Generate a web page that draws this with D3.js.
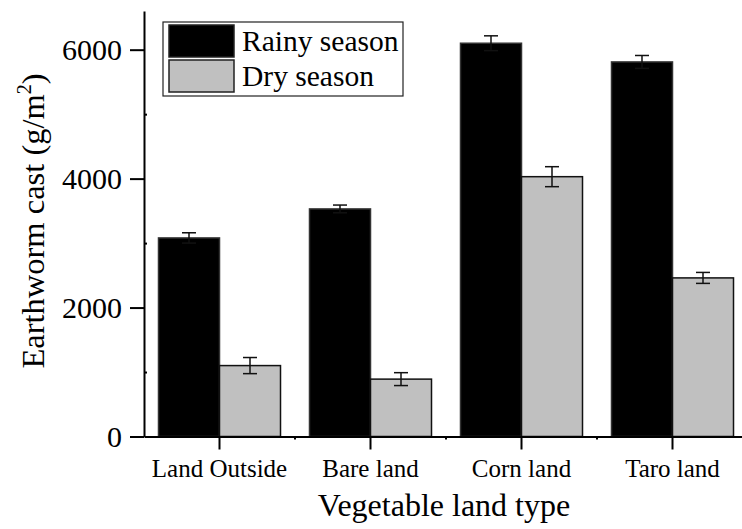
<!DOCTYPE html>
<html>
<head>
<meta charset="utf-8">
<script src="https://cdn.jsdelivr.net/npm/d3@7"></script>
<style>
  body { margin: 0; background: #fff; }
  svg { display: block; font-family: "Liberation Serif", "Times New Roman", serif; }
</style>
</head>
<body>
<div class="chart-container"></div>
<script>
// data
const landTypes = ["Land Outside", "Bare land", "Corn land", "Taro land"];
const seasons = ["Rainy season", "Dry season"];
const rainyValues = [3080, 3530, 6100, 5810];
const rainyErrors = [80, 60, 115, 100];
const dryValues = [1100, 890, 4030, 2460];
const dryErrors = [125, 100, 155, 85];
const yTicks = [0, 2000, 4000, 6000];
const yMinorTicks = [1000, 3000, 5000];
const seasonColors = ["#000000", "#c0c0c0"];

const width = 742;
const height = 529;

const svg = d3.select(".chart-container")
    .append("svg")
        .attr("width", width)
        .attr("height", height)

const chartLeftX = 144;
const chartRightX = 748;
const chartBaseY = 436.5;
const chartTopY = 11;

const rows = landTypes.map((t, i) => ({
    type: t,
    values: [
        {season: seasons[0], value: rainyValues[i], err: rainyErrors[i]},
        {season: seasons[1], value: dryValues[i], err: dryErrors[i]}
    ]
}));

const xScale = d3.scaleBand()
    .domain(landTypes)
    .range([chartLeftX, chartRightX])
    .paddingInner(0.192)
    .paddingOuter(0.096);

const xSub = d3.scaleBand()
    .domain(seasons)
    .range([0, xScale.bandwidth()]);

const yScale = d3.scaleLinear()
    .domain([0, 6600])
    .range([chartBaseY, chartTopY]);

const color = d3.scaleOrdinal().domain(seasons).range(seasonColors);

// bars
const groups = svg.selectAll(".group")
    .data(rows)
    .join("g")
        .attr("class", "group")
        .attr("transform", d => `translate(${xScale(d.type)},0)`);

groups.selectAll("rect")
    .data(d => d.values)
    .join("rect")
        .attr("x", d => xSub(d.season))
        .attr("y", d => yScale(d.value))
        .attr("width", xSub.bandwidth())
        .attr("height", d => chartBaseY - yScale(d.value))
        .attr("fill", d => color(d.season))
        .attr("stroke", d => d.season === seasons[0] ? "#333" : "#111")
        .attr("stroke-width", 1.5);

// error bars
const errG = groups.selectAll(".err")
    .data(d => d.values)
    .join("g")
        .attr("class", "err")
        .attr("stroke", "#111")
        .attr("stroke-width", 1.5);

const cx = d => xSub(d.season) + xSub.bandwidth() / 2;
errG.append("line")
    .attr("x1", cx).attr("x2", cx)
    .attr("y1", d => yScale(d.value - d.err))
    .attr("y2", d => yScale(d.value + d.err));
errG.append("line")
    .attr("x1", d => cx(d) - 7).attr("x2", d => cx(d) + 7)
    .attr("y1", d => yScale(d.value + d.err))
    .attr("y2", d => yScale(d.value + d.err));
errG.append("line")
    .attr("x1", d => cx(d) - 7).attr("x2", d => cx(d) + 7)
    .attr("y1", d => yScale(d.value - d.err))
    .attr("y2", d => yScale(d.value - d.err));

// y axis
const yAxis = svg.append("g")
    .attr("transform", `translate(${chartLeftX},0)`)
    .call(d3.axisLeft(yScale).tickValues(yTicks).tickFormat(d3.format("d"))
        .tickSize(14).tickPadding(8).tickSizeOuter(0));
yAxis.select(".domain").attr("stroke-width", 2);
yAxis.selectAll(".tick line").attr("stroke-width", 2);
yAxis.selectAll("text")
    .attr("font-size", 30)
    .attr("font-family", "Liberation Serif")
    .attr("fill", "#000")
    .attr("dy", "0.34em");

svg.append("g")
    .attr("transform", `translate(${chartLeftX},0)`)
    .call(d3.axisRight(yScale).tickValues(yMinorTicks).tickSize(3).tickFormat(""))
    .call(g => g.select(".domain").remove())
    .selectAll("line").attr("stroke-width", 2);

// x axis
const xAxis = svg.append("g")
    .attr("transform", `translate(0,${chartBaseY})`)
    .call(d3.axisBottom(xScale).tickSize(13).tickPadding(10).tickSizeOuter(0));
xAxis.select(".domain").attr("stroke-width", 2);
xAxis.selectAll(".tick line").attr("stroke-width", 2);
xAxis.selectAll("text")
    .attr("font-size", 25)
    .attr("font-family", "Liberation Serif")
    .attr("fill", "#000")
    .attr("dy", "0.71em");

// minor x ticks between groups
const step = xScale.step();
const minorX = landTypes.slice(1).map(t => xScale(t) - (step - xScale.bandwidth()) / 2);
svg.append("g")
    .selectAll("line")
    .data(minorX)
    .join("line")
        .attr("x1", d => d).attr("x2", d => d)
        .attr("y1", chartBaseY).attr("y2", chartBaseY + 3)
        .attr("stroke", "#000")
        .attr("stroke-width", 2);

// axis titles
svg.append("text")
    .attr("x", (chartLeftX + chartRightX) / 2 - 2)
    .attr("y", 516)
    .attr("text-anchor", "middle")
    .attr("font-size", 32)
    .text("Vegetable land type");

const yTitle = svg.append("text")
    .attr("transform", `translate(44,${221}) rotate(-90)`)
    .attr("text-anchor", "middle")
    .attr("font-size", 32.5);
yTitle.append("tspan").text("Earthworm cast (g/m");
yTitle.append("tspan").attr("dy", -13).attr("font-size", 20).text("2");
yTitle.append("tspan").attr("dy", 13).text(")");

// legend
const legend = svg.append("g").attr("transform", "translate(163,22)");
legend.append("rect")
    .attr("width", 240).attr("height", 74)
    .attr("fill", "#fff").attr("stroke", "#222").attr("stroke-width", 1.2);
const items = legend.selectAll(".item")
    .data(seasons)
    .join("g")
        .attr("class", "item")
        .attr("transform", (d, i) => `translate(6,${3 + i * 35})`);
items.append("rect")
    .attr("width", 65).attr("height", 32)
    .attr("fill", d => color(d))
    .attr("stroke", "#222").attr("stroke-width", 1.5);
items.append("text")
    .attr("x", 73).attr("y", 26)
    .attr("font-size", 29.5)
    .text(d => d);
</script>
</body>
</html>
